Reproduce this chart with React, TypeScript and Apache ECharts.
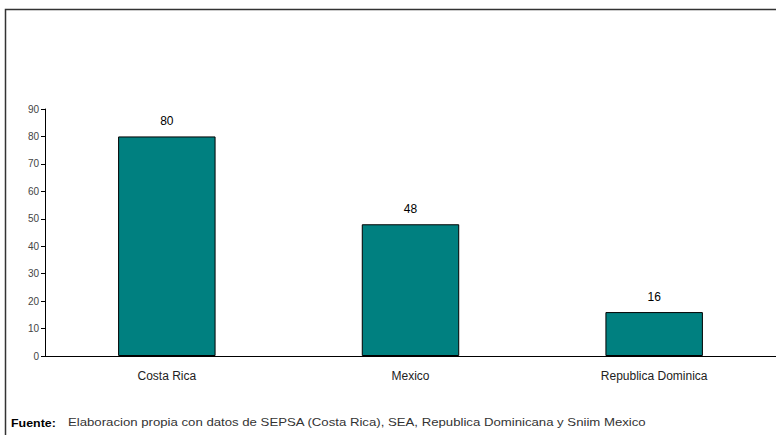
import React, { useEffect, useRef } from "react";
import * as echarts from "echarts";

const categories = ["Costa Rica", "Mexico", "Republica Dominica"];
const values = [80, 48, 16];
const yTicks = { min: 0, max: 90, interval: 10 };
const sourceLabel = "Fuente:";
const sourceText = "Elaboracion propia con datos de SEPSA (Costa Rica), SEA, Republica Dominicana y Sniim Mexico";

export default function App() {
  const ref = useRef<HTMLDivElement>(null);
  useEffect(() => {
    const chart = echarts.init(ref.current!, null, { renderer: "svg" });
    chart.setOption({
      animation: false,
      backgroundColor: "#ffffff",
      grid: { left: 45, top: 109, width: 735, bottom: 79, containLabel: false },
      xAxis: {
        type: "category",
        data: categories,
        axisLine: { lineStyle: { color: "#000", width: 1 } },
        axisTick: { show: false },
        axisLabel: { color: "#222", fontSize: 12, fontFamily: "Liberation Sans, Arial", margin: 14 },
      },
      yAxis: {
        type: "value",
        min: yTicks.min,
        max: yTicks.max,
        interval: yTicks.interval,
        axisLine: { show: true, lineStyle: { color: "#000", width: 1 } },
        axisTick: { show: true, length: 4, lineStyle: { color: "#000" } },
        splitLine: { show: false },
        axisLabel: { color: "#444", fontSize: 10, fontFamily: "Liberation Sans, Arial", margin: 6 },
      },
      series: [
        {
          type: "bar",
          data: values,
          barWidth: "40%",
          itemStyle: { color: "#008080", borderColor: "#000", borderWidth: 1 },
          label: {
            show: true,
            position: "top",
            distance: 9,
            color: "#000",
            fontSize: 12,
            fontFamily: "Liberation Sans, Arial",
          },
        },
      ],
      graphic: [
        {
          type: "rect",
          shape: { x: 5.5, y: 9.5, width: 800, height: 440 },
          style: { fill: "none", stroke: "#333", lineWidth: 1.5 },
          silent: true,
        },
        {
          type: "text",
          x: 11,
          y: 417,
          scaleX: 1.13,
          style: { text: sourceLabel, font: "bold 11px Liberation Sans, Arial", fill: "#000" },
        },
        {
          type: "text",
          x: 68,
          y: 417,
          scaleX: 1.2,
          style: { text: sourceText, font: "11px Liberation Sans, Arial", fill: "#333" },
        },
      ],
    });
    return () => chart.dispose();
  }, []);
  return (
    <div
      ref={ref}
      style={{ position: "fixed", left: 0, top: 0, width: 776, height: 435 }}
    />
  );
}
